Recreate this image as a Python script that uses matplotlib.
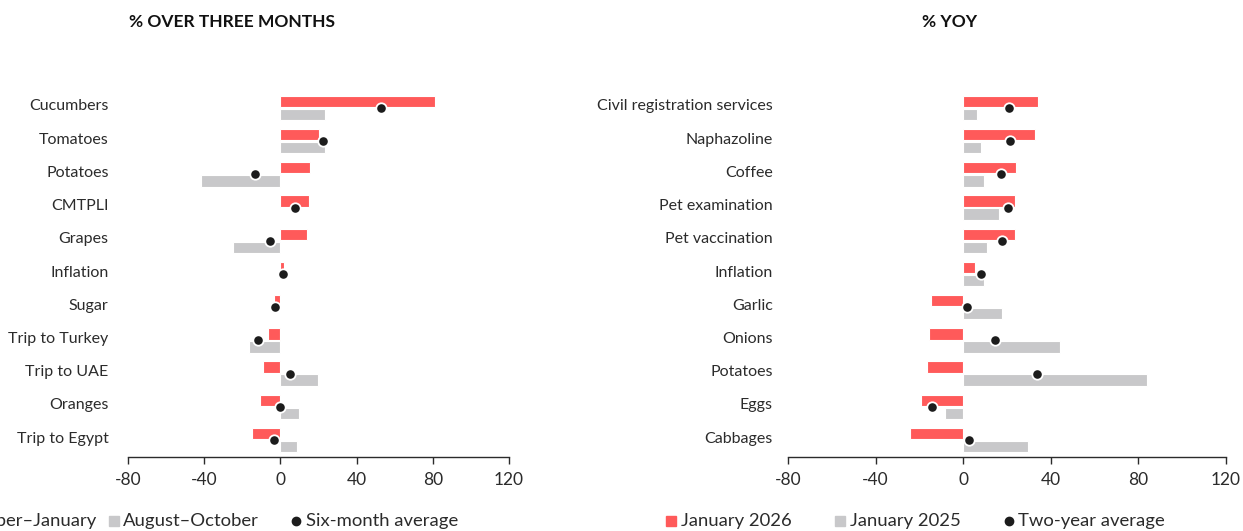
import numpy as np
import matplotlib
matplotlib.use("Agg")
import matplotlib.pyplot as plt
from matplotlib.lines import Line2D

# --------------------------------------------------
# DATA
# --------------------------------------------------
left_cats = ["Cucumbers", "Tomatoes", "Potatoes", "CMTPLI", "Grapes", "Inflation",
             "Sugar", "Trip to Turkey", "Trip to UAE", "Oranges", "Trip to Egypt"]
dec_jan = [81.2, 20.3, 15.7, 15.0, 14.1, 1.7, -3.6, -6.3, -9.0, -10.6, -15.1]
aug_oct = [23.4, 23.4, -41.8, 0.0, -24.9, 0.0, 0.0, -16.4, 19.7, 9.9, 8.5]
six_avg = [52.8, 22.5, -13.3, 7.8, -5.5, 1.2, -2.7, -12.0, 5.2, -0.4, -3.6]

right_cats = ["Civil registration services", "Naphazoline", "Coffee", "Pet examination",
              "Pet vaccination", "Inflation", "Garlic", "Onions", "Potatoes", "Eggs", "Cabbages"]
jan26 = [34.0, 33.0, 24.1, 23.6, 23.5, 5.5, -14.5, -15.7, -16.5, -19.1, -24.5]
jan25 = [6.4, 8.2, 9.6, 16.5, 11.0, 9.6, 17.8, 44.2, 83.7, -8.4, 29.7]
two_avg = [20.7, 21.2, 17.4, 20.4, 17.8, 7.9, 1.7, 14.3, 33.5, -14.3, 2.6]

xticks = [-80, -40, 0, 40, 80, 120]

RED = "#FF5A5A"
GREY = "#C8C8CA"
DOT = "#1C1C1C"
TXT = "#2B2B2B"

plt.rcParams["font.family"] = ["Lato", "DejaVu Sans"]

W, H = 1243, 531
fig = plt.figure(figsize=(W / 100, H / 100), dpi=100)


def px_axes(x0, x1, y0, y1):
    return fig.add_axes([x0 / W, 1 - y1 / H, (x1 - x0) / W, (y1 - y0) / H])


def panel(ax, cats, a, b, avg, pad):
    y = np.arange(len(cats))
    yc = y + 0.09          # bar group sits slightly below the label
    off = 0.196
    h = 0.34
    ax.barh(yc - off, a, height=h, color=RED, edgecolor="white", linewidth=0.8, zorder=2)
    ax.barh(yc + off, b, height=h, color=GREY, edgecolor="white", linewidth=0.8, zorder=2)
    ax.plot(avg, yc, "o", color=DOT, markersize=7.5, markeredgecolor="white",
            markeredgewidth=1.3, zorder=3)
    ax.set_xlim(-80, 120)
    ax.set_ylim(10.6, -0.51)
    ax.set_xticks(xticks)
    ax.set_xticklabels([str(t) for t in xticks], fontsize=12.5, color=TXT)
    ax.set_yticks(y)
    ax.set_yticklabels(cats, fontsize=11.5, color=TXT)
    ax.tick_params(axis="y", length=0, pad=pad)
    ax.tick_params(axis="x", length=5, width=1, color=TXT, pad=6)
    for s in ["top", "right", "left"]:
        ax.spines[s].set_visible(False)
    ax.spines["bottom"].set_color(TXT)
    ax.spines["bottom"].set_linewidth(1)


ax1 = px_axes(128, 509, 88, 457)
panel(ax1, left_cats, dec_jan, aug_oct, six_avg, 14)
ax2 = px_axes(788, 1226, 88, 457)
panel(ax2, right_cats, jan26, jan25, two_avg, 11)

fig.text(232 / W, 1 - 22 / H, "% OVER THREE MONTHS", ha="center", va="center",
         fontsize=12.5, fontweight="bold", color="#111111")
fig.text(950 / W, 1 - 22 / H, "% YOY", ha="center", va="center",
         fontsize=12.5, fontweight="bold", color="#111111")

# --------------------------------------------------
# LEGENDS
# --------------------------------------------------
ly = 1 - 521 / H


def legend_item(xm, xt, label, marker, color):
    fig.add_artist(Line2D([xm / W], [ly], marker=marker, color=color,
                          markersize=7 if marker == "s" else 6,
                          linestyle="none", transform=fig.transFigure))
    fig.text(xt / W, ly, label, ha="left", va="center", fontsize=13.3, color=TXT)


fig.text(97 / W, ly, "December–January", ha="right", va="center", fontsize=13.3, color=TXT)
legend_item(114, 123, "August–October", "s", GREY)
legend_item(296, 306, "Six-month average", "o", DOT)

legend_item(671, 681, "January 2026", "s", RED)
legend_item(840, 850, "January 2025", "s", GREY)
legend_item(1009, 1018, "Two-year average", "o", DOT)

fig.savefig("out.png", dpi=100, facecolor="white")
